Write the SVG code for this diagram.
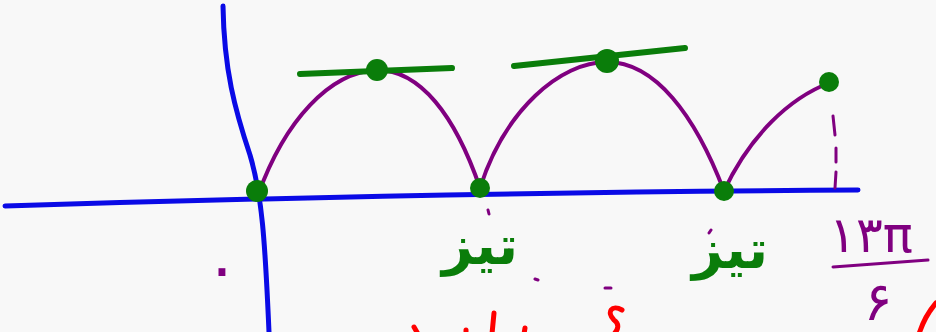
<svg xmlns="http://www.w3.org/2000/svg" width="936" height="332" viewBox="0 0 936 332">
<style>
.axis{fill:none;stroke:#0a0ae6;stroke-width:5;stroke-linecap:round;stroke-linejoin:round}
.curve{fill:none;stroke:#800080;stroke-width:4;stroke-linecap:round;stroke-linejoin:round}
.thin{fill:none;stroke:#800080;stroke-width:3;stroke-linecap:round}
.tan{fill:none;stroke:#0a7d0a;stroke-width:6;stroke-linecap:round}
.dot{fill:#0a7d0a}
.red{fill:none;stroke:#ff0000;stroke-width:5;stroke-linecap:round}
.lbl{font-family:"DejaVu Sans",sans-serif;font-weight:bold;fill:#0a7d0a}
.pur{font-family:"DejaVu Sans",sans-serif;fill:#800080}
</style>
<rect width="936" height="332" fill="#f8f8f8"/>
<g id="axes">
<path class="axis" d="M5,206 C200,200 500,192 858,190"/>
<path class="axis" d="M223,6 C224,70 235,110 250,155 C262,195 265,240 269,332"/>
</g>
<g id="curve">
<path class="curve" d="M258,195 C285,120 330,72 377,70 C420,70 455,115 480,188 C505,110 560,62 607,62 C655,62 695,115 724,191 C750,135 790,98 829,83"/>
<path class="thin" d="M833,116 L835,135 M836,148 L836,162 M836,172 L835,188"/>
<path class="thin" d="M488,210 L489,214 M509,250 L511,256 M535,279 L538,280 M605,288 L611,288 M709,233 L711,230"/>
</g>
<g id="tangents">
<path class="tan" d="M300,74 L452,68"/>
<path class="tan" d="M514,66 L685,48"/>
</g>
<g id="points">
<circle class="dot" cx="257" cy="191" r="11"/>
<circle class="dot" cx="377" cy="70" r="11"/>
<circle class="dot" cx="480" cy="188" r="10"/>
<circle class="dot" cx="607" cy="61" r="12"/>
<circle class="dot" cx="724" cy="191" r="10"/>
<circle class="dot" cx="829" cy="82" r="10"/>
</g>
<g id="labels">
<text class="lbl" x="480" y="264" font-size="54" text-anchor="middle">تیز</text>
<text class="lbl" x="730" y="268" font-size="54" text-anchor="middle">تیز</text>
<text class="pur" x="222" y="290" font-size="64" text-anchor="middle">۰</text>
<text class="pur" x="871" y="252" font-size="50" text-anchor="middle">۱۳π</text>
<path class="thin" d="M833,267 L928,260" stroke-width="4"/>
<text class="pur" x="878" y="320" font-size="54" text-anchor="middle">۶</text>
</g>
<g id="red-marks">
<path class="red" d="M414,327 L418,334"/>
<path class="red" d="M466,330 L466,334"/>
<path class="red" d="M494,313 L492,334"/>
<path class="red" d="M525,328 L524,334"/>
<path class="red" d="M622,310 C612,304 606,312 614,320 C620,324 618,330 614,334"/>
<path class="red" d="M936,303 C930,310 924,318 919,334"/>
</g>
</svg>
